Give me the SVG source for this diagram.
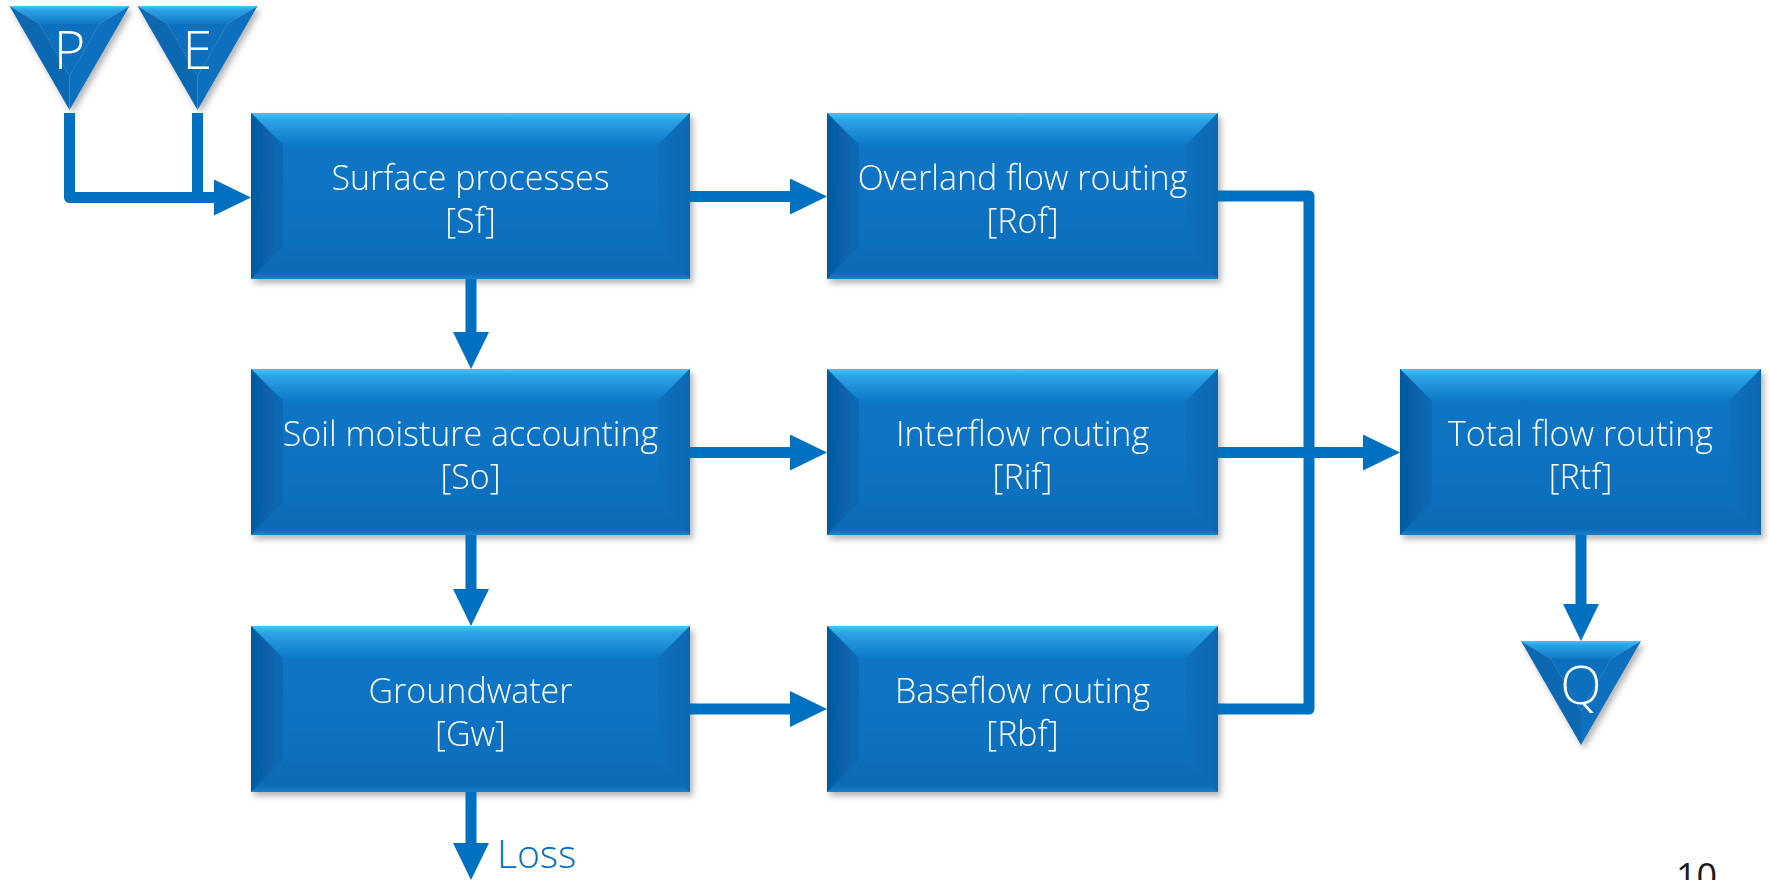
<svg xmlns="http://www.w3.org/2000/svg" width="1770" height="880" viewBox="0 0 1770 880">
<defs>
<linearGradient id="gTop" x1="0" y1="0" x2="0" y2="1"><stop offset="0" stop-color="#4CC2FB"/><stop offset="0.2" stop-color="#2FA3E9"/><stop offset="1" stop-color="#0D78C7"/></linearGradient>
<linearGradient id="gLeft" x1="0" y1="0" x2="1" y2="0"><stop offset="0" stop-color="#055AA0"/><stop offset="1" stop-color="#0A6AB6"/></linearGradient>
<linearGradient id="gRight" x1="0" y1="0" x2="1" y2="0"><stop offset="0" stop-color="#0B70BE"/><stop offset="1" stop-color="#0968B3"/></linearGradient>
<linearGradient id="gBot" x1="0" y1="0" x2="0" y2="1"><stop offset="0" stop-color="#0B6EBB"/><stop offset="0.8" stop-color="#0A6AB6"/><stop offset="1" stop-color="#1A7FCB"/></linearGradient>
<linearGradient id="gMid" x1="0" y1="0" x2="0" y2="1"><stop offset="0" stop-color="#0D77C6"/><stop offset="1" stop-color="#0A6EBD"/></linearGradient>
<filter id="sh" x="-10%" y="-10%" width="125%" height="130%"><feDropShadow dx="3" dy="4" stdDeviation="3" flood-color="#000" flood-opacity="0.3"/></filter>
<marker id="arr" markerUnits="userSpaceOnUse" viewBox="0 0 37 36" markerWidth="37" markerHeight="36" refX="1" refY="18" orient="auto"><path d="M0,0 L37,18 L0,36 Z" fill="#0070C0"/></marker>
</defs>
<style>
.top{fill:url(#gTop)} .left{fill:url(#gLeft)} .right{fill:url(#gRight)} .bot{fill:url(#gBot)} .mid{fill:url(#gMid)}
.node{filter:url(#sh)}
.lbl{font-family:"Open Sans","Noto Sans","Liberation Sans",sans-serif;font-weight:300;font-size:34px;fill:#fff;text-anchor:middle}
.tri{font-family:"Open Sans","Noto Sans","Liberation Sans",sans-serif;font-weight:300;font-size:54px;fill:#fff;text-anchor:middle}
.conn{fill:none;stroke:#0070C0;stroke-width:11;stroke-linejoin:round}
.tl{fill:#0868B2} .tr{fill:#0A6FBE} .ti{fill:#0B70BE}
</style>

<g id="P" class="node" transform="translate(9.5,6)">
<polygon class="top" points="0,0 120,0 90,18 30,18"/>
<polygon class="tl" points="0,0 30,18 60,70 60,104"/>
<polygon class="tr" points="120,0 60,104 60,70 90,18"/>
<polygon class="ti" points="30,18 90,18 60,70"/>
<text class="tri" x="60" y="63">P</text>
</g>
<g id="E" class="node" transform="translate(137.5,6)">
<polygon class="top" points="0,0 120,0 90,18 30,18"/>
<polygon class="tl" points="0,0 30,18 60,70 60,104"/>
<polygon class="tr" points="120,0 60,104 60,70 90,18"/>
<polygon class="ti" points="30,18 90,18 60,70"/>
<text class="tri" x="60" y="63">E</text>
</g>
<g id="Q" class="node" transform="translate(1521,641)">
<polygon class="top" points="0,0 120,0 90,18 30,18"/>
<polygon class="tl" points="0,0 30,18 60,70 60,104"/>
<polygon class="tr" points="120,0 60,104 60,70 90,18"/>
<polygon class="ti" points="30,18 90,18 60,70"/>
<text class="tri" x="60" y="63">Q</text>
</g>

<g id="Sf" class="node" transform="translate(251,113)">
<rect class="mid" x="0" y="0" width="439" height="166"/>
<polygon class="top" points="0,0 439,0 407,32 32,32"/>
<polygon class="left" points="0,0 32,32 32,134 0,166"/>
<polygon class="right" points="439,0 439,166 407,134 407,32"/>
<polygon class="bot" points="0,166 32,134 407,134 439,166"/>
<text class="lbl" x="219.5" y="77">Surface processes</text>
<text class="lbl" x="219.5" y="120">[Sf]</text>
</g>
<g id="So" class="node" transform="translate(251,369)">
<rect class="mid" x="0" y="0" width="439" height="166"/>
<polygon class="top" points="0,0 439,0 407,32 32,32"/>
<polygon class="left" points="0,0 32,32 32,134 0,166"/>
<polygon class="right" points="439,0 439,166 407,134 407,32"/>
<polygon class="bot" points="0,166 32,134 407,134 439,166"/>
<text class="lbl" x="219.5" y="77">Soil moisture accounting</text>
<text class="lbl" x="219.5" y="120">[So]</text>
</g>
<g id="Gw" class="node" transform="translate(251,626)">
<rect class="mid" x="0" y="0" width="439" height="166"/>
<polygon class="top" points="0,0 439,0 407,32 32,32"/>
<polygon class="left" points="0,0 32,32 32,134 0,166"/>
<polygon class="right" points="439,0 439,166 407,134 407,32"/>
<polygon class="bot" points="0,166 32,134 407,134 439,166"/>
<text class="lbl" x="219.5" y="77">Groundwater</text>
<text class="lbl" x="219.5" y="120">[Gw]</text>
</g>
<g id="Rof" class="node" transform="translate(827,113)">
<rect class="mid" x="0" y="0" width="391" height="166"/>
<polygon class="top" points="0,0 391,0 359,32 32,32"/>
<polygon class="left" points="0,0 32,32 32,134 0,166"/>
<polygon class="right" points="391,0 391,166 359,134 359,32"/>
<polygon class="bot" points="0,166 32,134 359,134 391,166"/>
<text class="lbl" x="195.5" y="77">Overland flow routing</text>
<text class="lbl" x="195.5" y="120">[Rof]</text>
</g>
<g id="Rif" class="node" transform="translate(827,369)">
<rect class="mid" x="0" y="0" width="391" height="166"/>
<polygon class="top" points="0,0 391,0 359,32 32,32"/>
<polygon class="left" points="0,0 32,32 32,134 0,166"/>
<polygon class="right" points="391,0 391,166 359,134 359,32"/>
<polygon class="bot" points="0,166 32,134 359,134 391,166"/>
<text class="lbl" x="195.5" y="77">Interflow routing</text>
<text class="lbl" x="195.5" y="120">[Rif]</text>
</g>
<g id="Rbf" class="node" transform="translate(827,626)">
<rect class="mid" x="0" y="0" width="391" height="166"/>
<polygon class="top" points="0,0 391,0 359,32 32,32"/>
<polygon class="left" points="0,0 32,32 32,134 0,166"/>
<polygon class="right" points="391,0 391,166 359,134 359,32"/>
<polygon class="bot" points="0,166 32,134 359,134 391,166"/>
<text class="lbl" x="195.5" y="77">Baseflow routing</text>
<text class="lbl" x="195.5" y="120">[Rbf]</text>
</g>
<g id="Rtf" class="node" transform="translate(1400,369)">
<rect class="mid" x="0" y="0" width="361" height="166"/>
<polygon class="top" points="0,0 361,0 329,32 32,32"/>
<polygon class="left" points="0,0 32,32 32,134 0,166"/>
<polygon class="right" points="361,0 361,166 329,134 329,32"/>
<polygon class="bot" points="0,166 32,134 329,134 361,166"/>
<text class="lbl" x="180.5" y="77">Total flow routing</text>
<text class="lbl" x="180.5" y="120">[Rtf]</text>
</g>

<g id="connectors">
<path class="conn" d="M69.5,113 V197.5 H215" marker-end="url(#arr)"/>
<path class="conn" d="M197.5,113 V197"/>
<path class="conn" d="M690,196.5 H791" marker-end="url(#arr)"/>
<path class="conn" d="M471,279 V333" marker-end="url(#arr)"/>
<path class="conn" d="M690,452.5 H791" marker-end="url(#arr)"/>
<path class="conn" d="M471,535 V590" marker-end="url(#arr)"/>
<path class="conn" d="M690,709 H791" marker-end="url(#arr)"/>
<path class="conn" d="M471,792 V844" marker-end="url(#arr)"/>
<path class="conn" d="M1218,196 H1309 V709 H1218"/>
<path class="conn" d="M1218,452.5 H1364" marker-end="url(#arr)"/>
<path class="conn" d="M1581,535 V605" marker-end="url(#arr)"/>
</g>

<text x="497" y="868" style="font-family:'Open Sans','Noto Sans','Liberation Sans',sans-serif;font-weight:300;font-size:39px;fill:#0070C0">Loss</text>
<text x="1676" y="889" style="font-family:'Open Sans','Noto Sans','Liberation Sans',sans-serif;font-size:36px;fill:#1a1a1a">10</text>
</svg>
